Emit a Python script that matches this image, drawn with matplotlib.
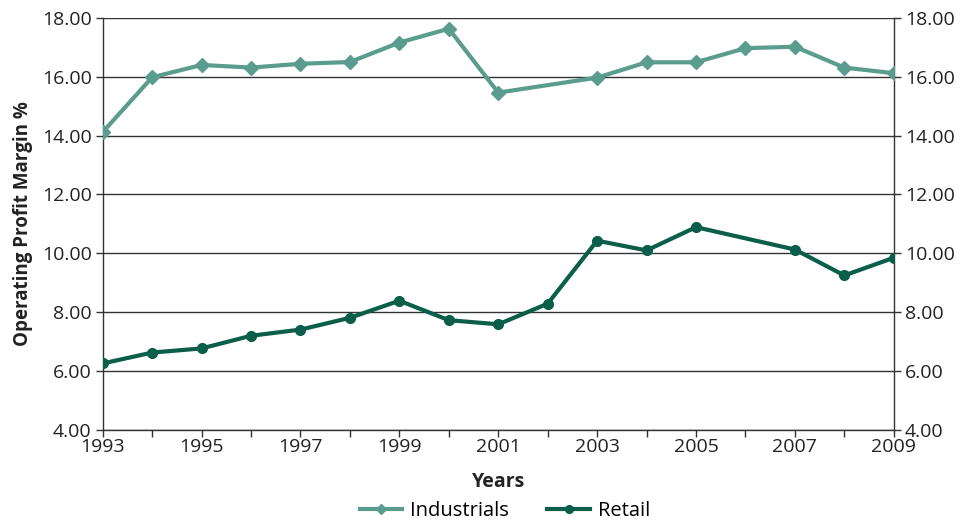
import matplotlib
matplotlib.use("Agg")
import matplotlib.pyplot as plt
import numpy as np

plt.rcParams['font.family'] = ['Open Sans', 'DejaVu Sans']

ind_years = [1993, 1994, 1995, 1996, 1997, 1998, 1999, 2000, 2001, 2003, 2004, 2005, 2006, 2007, 2008, 2009]
ind_vals = [14.12, 15.98, 16.40, 16.31, 16.44, 16.50, 17.16, 17.63, 15.46, 15.97, 16.49, 16.49, 16.97, 17.02, 16.31, 16.12]
ret_years = [1993, 1994, 1995, 1996, 1997, 1998, 1999, 2000, 2001, 2002, 2003, 2004, 2005, 2007, 2008, 2009]
ret_vals = [6.26, 6.63, 6.77, 7.20, 7.41, 7.81, 8.39, 7.73, 7.59, 8.29, 10.43, 10.10, 10.89, 10.13, 9.25, 9.85]

ind_color = '#5A9D8E'
ret_color = '#0A5E4A'

fig = plt.figure(figsize=(9.6, 5.25), dpi=100)
ax = fig.add_axes([0.107, 0.181, 0.824, 0.785])

ax.plot(ind_years, ind_vals, color=ind_color, lw=3, marker='D', ms=7, label='Industrials', zorder=3)
ax.plot(ret_years, ret_vals, color=ret_color, lw=3, marker='o', ms=7, label='Retail', zorder=3)

ax.set_xlim(1993, 2009)
ax.set_ylim(4, 18)
yt = np.arange(4, 18.01, 2)
ax.set_yticks(yt)
ax.set_yticklabels([f"{v:.2f}" for v in yt])
ax.set_xticks(range(1993, 2010))
ax.set_xticklabels([str(y) if y % 2 == 1 else '' for y in range(1993, 2010)])
ax.yaxis.grid(True, color='#333333', lw=1.0)
ax.set_axisbelow(True)
ax.spines['top'].set_visible(False)
for s in ['left', 'right', 'bottom']:
    ax.spines[s].set_color('#333333')
    ax.spines[s].set_linewidth(1.0)
ax.tick_params(axis='both', direction='out', length=5, width=1, color='#333333',
               labelsize=14, labelcolor='#222222')
ax.tick_params(axis='y', right=True, labelright=True, pad=3)
ax.tick_params(axis='x', pad=1)

ax.set_xlabel('Years', fontsize=14, fontweight='bold', color='#222222', labelpad=11)
ax.set_ylabel('Operating Profit Margin %', fontsize=13.5, fontweight='bold', color='#222222', labelpad=6)

fig.legend(*ax.get_legend_handles_labels(), loc='center', bbox_to_anchor=(0.526, 0.026), ncol=2,
           frameon=False, fontsize=14.5, handlelength=2.1, handletextpad=0.4,
           columnspacing=1.9, markerscale=0.8, borderpad=0)

fig.savefig('out.png', dpi=100)
